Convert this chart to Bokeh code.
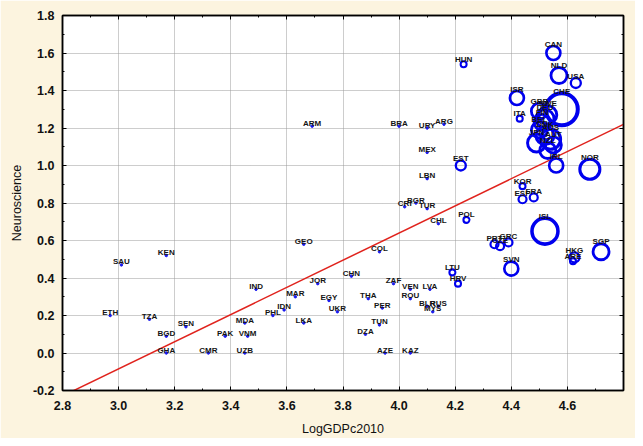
from bokeh.plotting import figure
from bokeh.models import (ColumnDataSource, Range1d, SingleIntervalTicker, NumeralTickFormatter,
                          LinearAxis, CustomJSTickFormatter)
from bokeh.embed import file_html
from bokeh.resources import INLINE
from bokeh.core.properties import value

# ---- data ----
countries = ["ETH", "SAU", "TZA", "KEN", "BGD", "GHA", "SEN", "CMR", "PAK", "MDA",
             "UZB", "VNM", "IND", "PHL", "IDN", "MAR", "GEO", "LKA", "ARM", "JOR",
             "EGY", "UKR", "CHN", "DZA", "THA", "COL", "TUN", "PER", "AZE", "ZAF",
             "BRA", "CRI", "ROU", "VEN", "KAZ", "BGR", "LVA", "MEX", "LBN", "TUR",
             "URY", "BLR", "MYS", "RUS", "CHL", "ARG",
             "LTU", "HRV", "HUN", "POL", "ITA", "KOR", "EST", "ESP", "FRA", "PRT",
             "CZE", "GRC", "HKG", "ARE", "USA", "SVN", "ISR", "CAN", "IRL", "NLD",
             "SGP", "NOR", "ISL", "CHE",
             "GBR", "SWE", "DEU", "FIN", "BEL", "DNK", "JPN", "AUS", "AUT", "NZL"]
log_gdp = [2.97, 3.01, 3.11, 3.17, 3.17, 3.17, 3.24, 3.32, 3.38, 3.45,
           3.45, 3.46, 3.49, 3.55, 3.59, 3.63, 3.66, 3.66, 3.69, 3.71,
           3.75, 3.78, 3.83, 3.88, 3.89, 3.93, 3.93, 3.94, 3.95, 3.98,
           4.00, 4.02, 4.04, 4.04, 4.04, 4.06, 4.11, 4.10, 4.10, 4.10,
           4.10, 4.10, 4.12, 4.14, 4.14, 4.16,
           4.19, 4.21, 4.23, 4.24, 4.43, 4.44, 4.22, 4.44, 4.48, 4.34,
           4.36, 4.39, 4.625, 4.62, 4.63, 4.40, 4.42, 4.55, 4.56, 4.57,
           4.72, 4.68, 4.52, 4.58,
           4.50, 4.53, 4.52, 4.51, 4.50, 4.52, 4.49, 4.54, 4.55, 4.53]
neuroscience = [0.20, 0.47, 0.18, 0.52, 0.09, 0.00, 0.14, 0.00, 0.09, 0.16,
                0.00, 0.09, 0.34, 0.20, 0.23, 0.30, 0.58, 0.16, 1.21, 0.37,
                0.28, 0.22, 0.41, 0.10, 0.29, 0.54, 0.15, 0.24, 0.00, 0.37,
                1.21, 0.78, 0.29, 0.34, 0.00, 0.80, 0.34, 1.07, 0.93, 0.77,
                1.20, 0.25, 0.22, 0.25, 0.69, 1.22,
                0.43, 0.37, 1.54, 0.71, 1.25, 0.89, 1.00, 0.82, 0.83, 0.58,
                0.57, 0.59, 0.51, 0.49, 1.44, 0.45, 1.36, 1.60, 1.00, 1.48,
                0.54, 0.98, 0.65, 1.30,
                1.29, 1.27, 1.25, 1.23, 1.19, 1.16, 1.12, 1.14, 1.11, 1.08]
# bubble weight (0 = plain dot)
weight = [0, 0, 0, 0, 0, 0, 0, 0, 0, 0,
          0, 0, 0, 0, 0, 0, 0, 0, 0, 0,
          0, 0, 0, 0, 0, 0, 0, 0, 0, 0,
          0, 0, 0, 0, 0, 0, 0, 0, 0, 0,
          0, 0, 0, 0, 0, 0,
          3, 3, 3, 3, 3, 3, 5, 4, 4, 4,
          4, 4, 5, 3, 5, 7, 7, 7, 7, 8,
          8, 10, 13, 16,
          8, 9, 9, 8, 8, 9, 9, 10, 8, 8]

# fitted line
fit_slope = 0.7245
fit_intercept = -2.258

x_ticks_interval = 0.2
y_ticks_interval = 0.2

# ---- derived drawing columns ----
is_dot = [w == 0 for w in weight]
radius_px = [1.0 if d else float(w) for d, w in zip(is_dot, weight)]

bub = ColumnDataSource(dict(
    x=[x for x, d in zip(log_gdp, is_dot) if not d],
    y=[y for y, d in zip(neuroscience, is_dot) if not d],
    size=[2 * r for r, d in zip(radius_px, is_dot) if not d],
    lw=[1.6 + 0.15 * r for r, d in zip(radius_px, is_dot) if not d],
))
dots = ColumnDataSource(dict(
    x=[x for x, d in zip(log_gdp, is_dot) if d],
    y=[y for y, d in zip(neuroscience, is_dot) if d],
))
labels = ColumnDataSource(dict(
    x=log_gdp, y=neuroscience, text=countries,
    yoff=[-(r + 2.0) for r in radius_px],
))

BG = "#FCF4DF"
p = figure(width=635, height=438, output_backend="svg", toolbar_location=None,
           x_range=Range1d(2.8, 4.8), y_range=Range1d(-0.2, 1.8),
           min_border_left=62, min_border_right=12, min_border_top=15, min_border_bottom=48,
           border_fill_color=BG, background_fill_color="white",
           outline_line_color="black", outline_line_width=1.5)

font = "Liberation Sans"
for ax, dim in ((p.xaxis[0], "x"), (p.yaxis[0], "y")):
    ax.ticker = SingleIntervalTicker(interval=x_ticks_interval if dim == "x" else y_ticks_interval,
                                     num_minor_ticks=2)
    ax.formatter = NumeralTickFormatter(format="0.0")
    ax.major_label_text_font = font
    ax.major_label_text_font_size = "12.5px"
    ax.major_label_text_font_style = "bold"
    ax.major_label_text_color = "#111111"
    ax.major_tick_in = 4
    ax.major_tick_out = 0
    ax.minor_tick_in = 2
    ax.minor_tick_out = 0
    ax.axis_line_color = "black"
    ax.axis_line_width = 1.5
    ax.axis_label_text_font = font
    ax.axis_label_text_font_size = "12.5px"
    ax.axis_label_text_font_style = "normal"
    ax.axis_label_text_color = "#111111"

p.xaxis[0].axis_label = "LogGDPc2010"
p.yaxis[0].axis_label = "Neuroscience"
p.xaxis[0].major_label_standoff = 10
p.yaxis[0].major_label_standoff = 8
p.xaxis[0].axis_label_standoff = 9
p.yaxis[0].axis_label_standoff = 6

blank = CustomJSTickFormatter(code="return ''")
for loc in ("above", "right"):
    ax = LinearAxis(ticker=SingleIntervalTicker(interval=0.2, num_minor_ticks=2),
                    formatter=blank, major_label_standoff=0,
                    major_tick_in=4, major_tick_out=0, minor_tick_in=2, minor_tick_out=0,
                    axis_line_color="black", axis_line_width=1.5)
    p.add_layout(ax, loc)

for g in (p.xgrid[0], p.ygrid[0]):
    g.ticker = SingleIntervalTicker(interval=0.2)
    g.grid_line_color = "#9a9a9a"
    g.grid_line_dash = "1 1"
    g.grid_line_width = 1

# regression line
lx = [2.8, 4.8]
ly = [fit_intercept + fit_slope * v for v in lx]
p.line(lx, ly, line_color="#e0231d", line_width=1.5)

p.scatter("x", "y", source=dots, size=2.5, color="#1a1aee")
p.scatter("x", "y", source=bub, size="size", fill_color=None, line_color="#0000ee",
          line_width="lw")

p.text("x", "y", text="text", source=labels, y_offset="yoff",
       text_font=value(font), text_font_size="8px", text_font_style="bold",
       text_color="#141414", text_align="center", text_baseline="alphabetic")

open("out.html", "w").write(file_html(p, INLINE))
